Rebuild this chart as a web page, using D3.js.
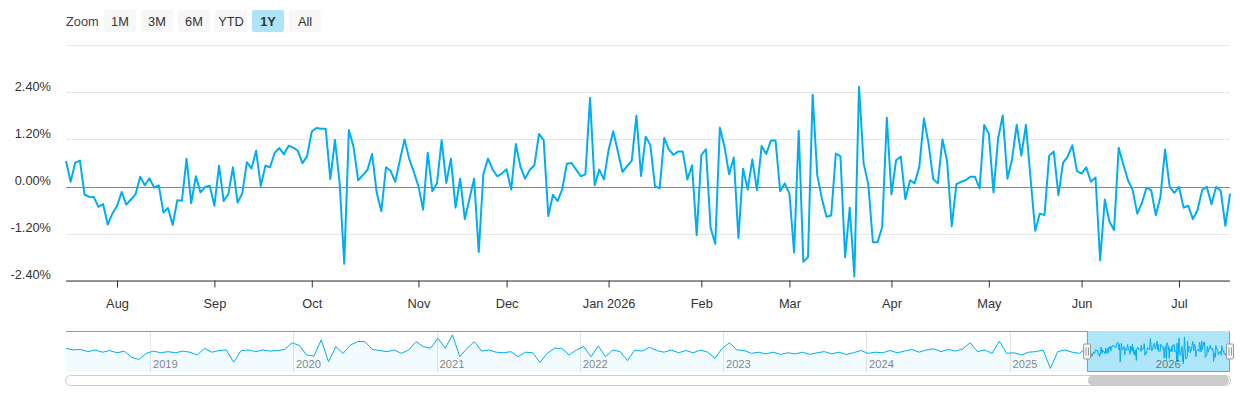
<!DOCTYPE html>
<html><head><meta charset="utf-8">
<script src="https://cdn.jsdelivr.net/npm/d3@7"></script>
<style>
body{margin:0;background:#fff;}
svg{display:block;font-family:"Liberation Sans",Arial,Helvetica,sans-serif;}
</style></head><body>
<svg id="chart" width="1240" height="400"></svg>
<script>
// ---------- data ----------
const startDate = "2025-07-17";
const holidays = ["2025-09-01","2025-11-27","2025-12-25","2026-01-01","2026-01-19","2026-02-16","2026-04-03","2026-05-25","2026-06-19","2026-07-03"];
const values = [
 0.65,0.12,0.61,0.66,-0.21,-0.26,-0.27,-0.52,-0.45,-0.97,-0.69,-0.50,-0.14,-0.46,-0.33,-0.20,0.25,0.03,0.21,-0.03,0.03,-0.66,-0.55,-0.98,-0.35,-0.36,0.71,-0.43,0.26,-0.15,-0.01,0.02,-0.49,0.53,-0.37,-0.20,0.49,-0.41,-0.18,0.62,0.46,0.91,0.01,
 0.53,0.49,0.86,0.98,0.82,1.04,0.99,0.91,0.59,0.78,1.40,1.49,1.47,1.47,0.19,1.19,0.10,-1.97,1.44,1.01,0.16,0.29,0.42,0.83,-0.16,-0.63,0.49,0.40,0.12,0.67,1.20,0.71,0.37,0.01,-0.59,0.86,-0.12,0.08,1.18,0.09,0.71,-0.54,
 0.20,-0.83,-0.31,0.20,-1.67,0.32,0.71,0.43,0.26,0.33,0.44,-0.08,1.08,0.50,0.20,0.42,0.54,1.34,1.18,-0.75,-0.21,-0.37,-0.07,0.58,0.60,0.43,0.26,0.31,2.26,0.03,0.43,0.18,0.93,1.41,0.89,0.37,0.52,0.66,1.80,0.27,1.27,1.06,
 0.01,-0.05,1.24,0.94,0.81,0.89,0.89,0.18,0.54,-1.24,0.80,0.95,-1.05,-1.46,1.50,1.01,0.31,0.74,-1.31,0.45,-0.08,0.69,-0.09,1.03,0.83,1.17,1.17,-0.12,0.08,-0.18,-1.68,1.42,-1.92,-1.80,2.34,0.29,-0.31,-0.77,-0.74,0.84,0.77,-1.80,
 -0.54,-2.29,2.54,0.59,0.06,-1.42,-1.42,-1.03,1.75,-0.20,0.67,0.76,-0.32,0.16,0.08,0.50,1.73,1.10,0.19,0.08,1.20,0.65,-1.01,0.06,0.12,0.16,0.25,0.25,-0.05,1.57,1.34,-0.15,1.23,1.81,0.20,0.69,1.57,0.79,1.57,0.20,-1.13,-0.69,
 -0.73,0.78,0.89,-0.22,0.60,0.76,1.05,0.39,0.33,0.49,0.12,0.23,-1.88,-0.33,-0.89,-1.11,0.99,0.56,0.16,-0.08,-0.69,-0.42,-0.03,-0.09,-0.73,-0.26,0.94,-0.01,-0.16,-0.01,-0.54,-0.49,-0.83,-0.60,-0.09,-0.01,-0.45,-0.01,-0.11,-1.00,-0.18
];
const yTicks = [-2.4,-1.2,0,1.2,2.4];
const zoomButtons = ["1M","3M","6M","YTD","1Y","All"];
const selectedButton = "1Y";
const navStart = "2018-06-01";
const navYears = [2019,2020,2021,2022,2023,2024,2025,2026];
// navigator history (read from the navigator strip, evenly spaced in time, before the 1Y window)
const navHistory = [
 0.5,0.2,0.3,-0.1,0.2,-0.2,0.1,-0.3,0.0,-1.1,
 -1.5,-0.4,0.0,-0.3,-0.1,-0.3,0.0,-0.2,-0.7,0.5,
 -0.2,0.1,0.2,-2.0,0.1,0.2,-0.1,0.2,0.0,0.1,
 0.3,1.5,1.0,-0.7,-0.9,2.0,-1.9,0.8,-0.4,1.1,
 1.7,1.7,0.3,0.1,-0.1,0.2,-0.4,0.2,1.7,0.8,
 0.5,2.3,0.5,2.9,-1.0,0.5,1.7,0.0,0.2,-0.2,
 -0.3,-0.1,-1.0,-0.2,-0.3,-2.0,-0.4,0.5,0.5,-0.7,
 0.2,0.8,-1.0,0.9,-1.0,0.2,-0.1,-1.7,0.2,0.0,
 0.7,0.1,-0.2,0.2,-0.3,0.1,-0.3,0.2,-0.2,-1.3,
 0.5,1.5,0.2,0.1,-0.4,-0.2,-0.5,-0.2,-0.6,-0.3,
 -0.5,-0.2,-0.6,-0.3,-0.1,-0.5,-0.2,-0.6,-0.3,0.1,
 -0.4,-0.2,-0.3,0.1,-0.3,0.0,0.3,-0.2,0.2,0.4,
 -0.1,0.3,0.0,0.4,1.5,-0.1,0.2,-0.4,1.8,-0.4,
 -0.3,-0.7,-0.2,-0.1,0.2,-3.1,-0.1,0.2,-0.2,-0.4
];

// ---------- trading calendar ----------
const parse = d3.utcParse("%Y-%m-%d");
const fmt = d3.utcFormat("%Y-%m-%d");
const hol = new Set(holidays);
const dates = [];
let d = parse(startDate);
while (dates.length < values.length) {
  const wd = d.getUTCDay();
  if (wd !== 0 && wd !== 6 && !hol.has(fmt(d))) dates.push(new Date(d));
  d = d3.utcDay.offset(d, 1);
}

const svg = d3.select("#chart");
const L = 66, R = 1230;
const font = "#333333";

// ---------- range selector ----------
svg.append("text").attr("x", 66).attr("y", 26).attr("font-size", 12.8).attr("fill", "#444").text("Zoom");
const bx = d3.scaleBand().domain(zoomButtons).range([104, 104 + 37 * zoomButtons.length - 5]).paddingInner(5/37).paddingOuter(0);
const bg = svg.append("g").selectAll("g").data(zoomButtons).join("g")
  .attr("transform", k => `translate(${bx(k)},10)`);
bg.append("rect").attr("width", bx.bandwidth()).attr("height", 22).attr("rx", 2)
  .attr("fill", k => k === selectedButton ? "#aee4f7" : "#f7f7f7");
bg.append("text").attr("x", bx.bandwidth() / 2).attr("y", 16).attr("text-anchor", "middle")
  .attr("font-size", 12.8).attr("fill", font).attr("font-weight", k => k === selectedButton ? "bold" : "normal").text(k => k);
svg.append("line").attr("x1", L).attr("x2", R).attr("y1", 45.5).attr("y2", 45.5).attr("stroke", "#e6e6e6");

// ---------- main chart ----------
const x = d3.scaleLinear().domain([0, values.length - 1]).range([L, R]);
const y = d3.scaleLinear().domain([-2.4, 2.4]).range([280.7, 92.3]);

svg.append("g").selectAll("line").data(yTicks).join("line")
  .attr("x1", L).attr("x2", R).attr("y1", v => Math.round(y(v)) + 0.5).attr("y2", v => Math.round(y(v)) + 0.5)
  .attr("stroke", "#e6e6e6");
svg.append("g").selectAll("text").data(yTicks).join("text")
  .attr("x", 51).attr("y", v => y(v) - 1.7).attr("text-anchor", "end").attr("font-size", 12.8).attr("fill", font)
  .text(v => v.toFixed(2) + "%");
svg.append("line").attr("x1", L).attr("x2", R).attr("y1", Math.round(y(0)) + 0.5).attr("y2", Math.round(y(0)) + 0.5)
  .attr("stroke", "#7a8999").attr("stroke-width", 1);

// x axis: first trading day of each month
const monthIdx = dates.map((dt, i) => i).filter(i => i > 0 && dates[i].getUTCMonth() !== dates[i - 1].getUTCMonth());
const mfmt = d3.utcFormat("%b"), yfmt = d3.utcFormat("%b %Y");
const xAxis = d3.axisBottom(x).tickValues(monthIdx).tickSize(7).tickSizeOuter(0)
  .tickFormat(i => dates[i].getUTCMonth() === 0 ? yfmt(dates[i]) : mfmt(dates[i]));
const gx = svg.append("g").attr("transform", "translate(0,280.5)").call(xAxis);
gx.select(".domain").attr("stroke", "#333").attr("d", `M${L},0.5H${R}`);
gx.selectAll(".tick line").attr("stroke", "#333");
gx.selectAll(".tick text").attr("font-size", 12.8).attr("fill", font).attr("font-family", "Liberation Sans, Arial, sans-serif").attr("dy", 0).attr("y", 27);

const line = d3.line().x((v, i) => x(i)).y(v => y(v));
svg.append("path").datum(values).attr("d", line).attr("fill", "none")
  .attr("stroke", "#00aeef").attr("stroke-width", 2).attr("stroke-linejoin", "round");

// ---------- navigator ----------
const NT = 331, NB = 372;
const navEnd = dates[dates.length - 1];
const nx = d3.scaleUtc().domain([parse(navStart), navEnd]).range([L, R]);
const histSpan = dates[0] - parse(navStart);
const navPoints = navHistory.map((v, i) => ({ t: new Date(+parse(navStart) + i * histSpan / navHistory.length), v }))
  .concat(values.map((v, i) => ({ t: dates[i], v })));
const ny = d3.scaleLinear().domain([-3.75, 3.6]).range([NB, NT]);

// year gridlines
const yearDates = navYears.map(yr => new Date(Date.UTC(yr, 0, 1)));
svg.append("g").selectAll("line").data(yearDates).join("line")
  .attr("x1", t => Math.round(nx(t)) + 0.5).attr("x2", t => Math.round(nx(t)) + 0.5)
  .attr("y1", NT).attr("y2", NB).attr("stroke", "#e6e6e6");

// area fill + line
svg.append("path").datum(navPoints)
  .attr("d", d3.area().x(p => nx(p.t)).y0(NB).y1(p => ny(p.v)))
  .attr("fill", "#00aeef").attr("fill-opacity", 0.05);

// selection mask
const selL = nx(dates[0]), selR = nx(navEnd);
svg.append("rect").attr("x", selL).attr("y", NT).attr("width", selR - selL).attr("height", NB - NT)
  .attr("fill", "#aee5f8");

svg.append("path").datum(navPoints)
  .attr("d", d3.line().x(p => nx(p.t)).y(p => ny(p.v)))
  .attr("fill", "none").attr("stroke", "#00aeef").attr("stroke-width", 1);

// year labels
svg.append("g").selectAll("text").data(yearDates).join("text")
  .attr("x", t => nx(t) + 3).attr("y", NB - 4).attr("font-size", 11.2).attr("fill", "#000").attr("fill-opacity", 0.5)
  .text(t => t.getUTCFullYear());

// outline
svg.append("path")
  .attr("d", `M${L},${NT + 0.5}H${Math.round(selL) + 0.5}V${NB - 0.5}H${Math.round(selR) - 0.5}V${NT + 0.5}H${R}`)
  .attr("fill", "none").attr("stroke", "#999");

// handles
const hg = svg.append("g").selectAll("g").data([selL, selR]).join("g")
  .attr("transform", hx => `translate(${Math.round(hx)},${(NT + NB) / 2})`);
hg.append("rect").attr("x", -3.5).attr("y", -7.5).attr("width", 7).attr("height", 15).attr("rx", 1)
  .attr("fill", "#f2f2f2").attr("stroke", "#999");
hg.append("path").attr("d", "M-1,-4V4M1.5,-4V4").attr("stroke", "#999");

// scrollbar
svg.append("rect").attr("x", L - 0.5).attr("y", 375.5).attr("width", R - L + 1).attr("height", 10).attr("rx", 5)
  .attr("fill", "#fff").attr("stroke", "#cccccc");
svg.append("rect").attr("x", selL + 1).attr("y", 375.5).attr("width", selR - selL - 2).attr("height", 10).attr("rx", 5)
  .attr("fill", "#cccccc");
</script>
</body></html>
